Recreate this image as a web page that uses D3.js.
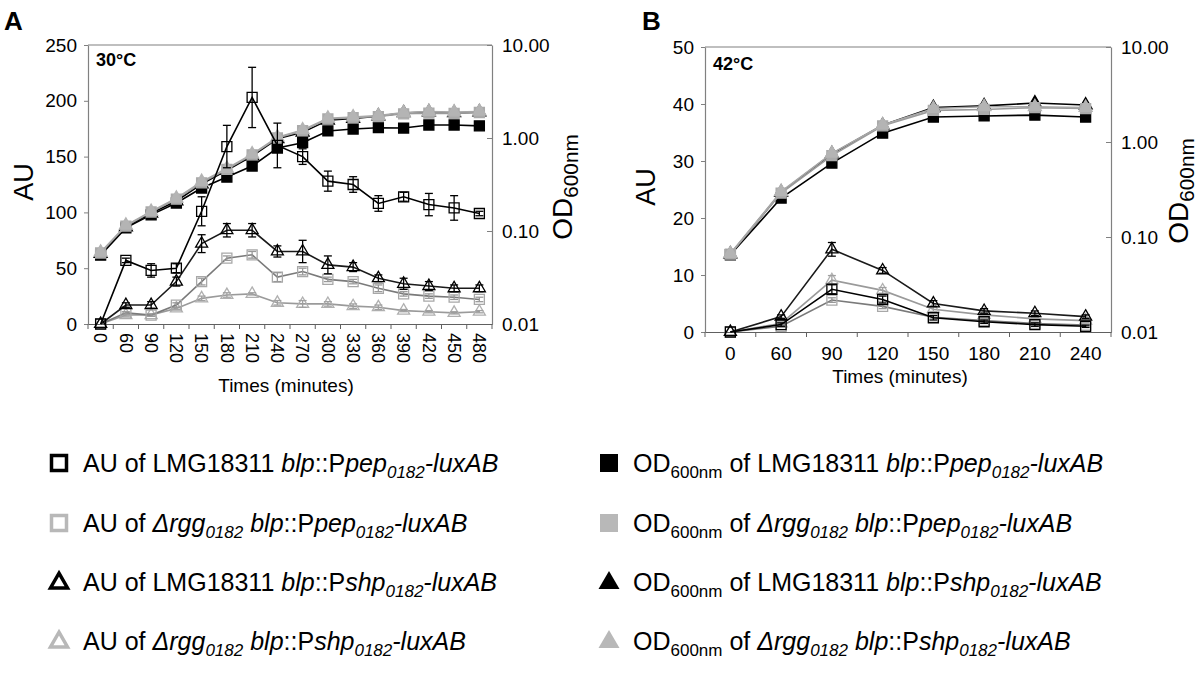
<!DOCTYPE html>
<html><head><meta charset="utf-8">
<script src="https://cdn.jsdelivr.net/npm/d3@7"></script>
<style>body{margin:0;background:#fff} svg{display:block} text{font-family:"Liberation Sans",Arial,sans-serif}</style>
</head><body><svg id="c" width="1200" height="685"></svg>
<script>
// ---------- data ----------
const timesA = [0,60,90,120,150,180,210,240,270,300,330,360,390,420,450,480];
const timesB = [0,60,90,120,150,180,210,240];
const yTicksA = [0,50,100,150,200,250];
const yTicksB = [0,10,20,30,40,50];
const odTicks = [0.01,0.1,1,10];

// Panel A (30°C) – AU
const auA_wtPep    = [0,57,48,50,101,159,203,160,150,128,125,108,114,107,104,99];
const auA_wtPepErr = [0,2,6,4,13,19,27,20,7,9,7,7,4,10,11,2];
const auA_rggPep    = [0,10,8,17,38,59,62,42,47,40,38,32,27,25,24,22];
const auA_rggPepErr = [0,1,1,2,3,2,3,4,3,2,2,3,2,2,2,2];
const auA_wtShp    = [0,17,17,38,72,84,84,65,65,53,51,41,36,34,32,32];
const auA_wtShpErr = [0,2,3,4,8,6,6,5,10,8,4,3,5,4,3,3];
const auA_rggShp    = [0,8,8,14,23,26,27,19,18,18,16,15,12,11,10,11];
const auA_rggShpErr = [0,1,1,1,2,2,1,2,3,2,2,2,1,1,1,1];
// Panel A – OD600nm
const odA_wtPep  = [0.055,0.108,0.149,0.20,0.29,0.38,0.50,0.78,0.89,1.19,1.25,1.29,1.28,1.38,1.38,1.35];
const odA_rggPep = [0.058,0.113,0.16,0.22,0.33,0.46,0.66,1.0,1.2,1.6,1.65,1.7,1.82,1.85,1.84,1.88];
const odA_wtShp  = [0.057,0.11,0.155,0.21,0.32,0.45,0.64,0.98,1.15,1.55,1.62,1.72,1.86,1.9,1.86,1.9];
const odA_rggShp = [0.059,0.115,0.162,0.225,0.34,0.47,0.67,1.02,1.22,1.63,1.68,1.74,1.88,1.92,1.9,1.93];

// Panel B (42°C) – AU
const auB_wtPep    = [0,1.3,7.5,5.7,2.5,1.8,1.3,1.0];
const auB_wtPepErr = [0,0.3,0.8,0.6,0.4,0.3,0.3,0.2];
const auB_rggPep    = [0,1.0,5.6,4.5,2.6,2.0,1.5,1.2];
const auB_rggPepErr = [0,0.2,0.4,0.4,0.3,0.3,0.2,0.2];
const auB_wtShp    = [0,2.7,14.5,10.8,5.0,3.7,3.3,2.7];
const auB_wtShpErr = [0,0.3,1.2,0.5,0.5,0.4,0.4,0.3];
const auB_rggShp    = [0,1.5,9.1,7.3,4.0,3.0,2.3,2.0];
const auB_rggShpErr = [0,0.2,0.8,0.5,0.4,0.3,0.3,0.3];
// Panel B – OD600nm
const odB_wtPep  = [0.065,0.257,0.60,1.24,1.83,1.88,1.92,1.83];
const odB_rggPep = [0.066,0.29,0.72,1.48,2.15,2.2,2.3,2.25];
const odB_wtShp  = [0.066,0.295,0.75,1.5,2.3,2.4,2.57,2.45];
const odB_rggShp = [0.067,0.30,0.76,1.51,2.25,2.35,2.35,2.3];

// ---------- drawing ----------
const svg = d3.select("#c");
const AX = "#808080";
const sq = (s)=>d3.symbol().type(d3.symbolSquare).size(s*s)();
const tri = (s)=>d3.symbol().type(d3.symbolTriangle).size(s*s*Math.sqrt(3)/4)();

function panel(cfg){
  const g = svg.append("g");
  const x = d3.scaleBand().domain(cfg.times).range([cfg.x0,cfg.x1]);
  const y = d3.scaleLinear().domain([0,cfg.yMax]).range([cfg.yb,cfg.yt]);
  const od = d3.scaleLog().domain([0.01,10]).range([cfg.yb,cfg.yt]);
  const cx = t => x(t)+x.bandwidth()/2;

  // frame
  g.append("line").attr("x1",cfg.x0).attr("x2",cfg.x1).attr("y1",cfg.yt).attr("y2",cfg.yt).attr("stroke",AX).attr("stroke-width",1.2);
  const la = g.append("g").attr("transform",`translate(${cfg.x0},0)`)
    .call(d3.axisLeft(y).tickValues(cfg.yTicks).tickSize(4).tickSizeOuter(0).tickPadding(7));
  const ra = g.append("g").attr("transform",`translate(${cfg.x1},0)`)
    .call(d3.axisRight(od).tickValues(odTicks).tickFormat(d3.format(".2f")).tickSize(-5).tickSizeOuter(0).tickPadding(10));
  [la,ra].forEach(a=>{a.select(".domain").attr("stroke",AX).attr("stroke-width",1.2);
    a.selectAll(".tick line").attr("stroke",AX);
    a.selectAll("text").attr("font-size",19).attr("fill","#000").attr("font-family","Liberation Sans, Arial, sans-serif");});
  const ba = g.append("g").attr("transform",`translate(0,${cfg.yb})`)
    .call(d3.axisBottom(x).tickSize(0).tickSizeOuter(0).tickPadding(cfg.rot?9:15));
  ba.select(".domain").attr("stroke","#606060").attr("stroke-width",1.2);
  ba.selectAll("text").attr("font-size",cfg.rot?18:19).attr("fill","#000").attr("font-family","Liberation Sans, Arial, sans-serif");
  if(cfg.rot){
    ba.selectAll(".tick text").attr("transform","rotate(90)").attr("x",9).attr("y",0).attr("dy","0.35em").attr("text-anchor","start");
  }
  d3.range(cfg.times.length+1).forEach(i=>{
    const xx = cfg.x0 + i*x.step();
    g.append("line").attr("x1",xx).attr("x2",xx).attr("y1",cfg.yb).attr("y2",cfg.yb+5).attr("stroke","#606060");
  });

  // series
  function series(vals, err, scale, s){
    const line = d3.line().x((d,i)=>cx(cfg.times[i])).y(d=>scale(d));
    g.append("path").attr("d",line(vals)).attr("fill","none").attr("stroke",s.line).attr("stroke-width",1.6);
    const pts = vals.map((v,i)=>({t:cfg.times[i],v,e:err?err[i]:0}));
    pts.forEach(p=>{
      g.append("path").attr("d",s.shape==="sq"?sq(s.size):tri(s.size))
        .attr("transform",`translate(${cx(p.t)},${scale(p.v)})`)
        .attr("fill",s.fill).attr("stroke",s.stroke).attr("stroke-width",s.sw||1.3);
      if(p.e>0){
        const X = cx(p.t), y1 = scale(p.v+p.e), y2 = scale(Math.max(p.v-p.e,0));
        g.append("line").attr("x1",X).attr("x2",X).attr("y1",y1).attr("y2",y2).attr("stroke",s.err).attr("stroke-width",1.3);
        [y1,y2].forEach(yy=>g.append("line").attr("x1",X-4).attr("x2",X+4).attr("y1",yy).attr("y2",yy).attr("stroke",s.err).attr("stroke-width",1.3));
      }
    });
  }
  const S = cfg.series;
  series(S.odWtPep,null,od,{line:"#000",shape:"sq",size:10,fill:"#000",stroke:"#000"});
  series(S.odWtShp,null,od,{line:"#000",shape:"tri",size:13,fill:"#000",stroke:"#000"});
  series(S.odRggPep,null,od,{line:"#9a9a9a",shape:"sq",size:10,fill:"#aaa",stroke:"#aaa"});
  series(S.odRggShp,null,od,{line:"#a8a8a8",shape:"tri",size:13,fill:"#b4b4b4",stroke:"#b4b4b4"});
  series(S.auRggShp,S.auRggShpErr,y,{line:"#9a9a9a",shape:"tri",size:12,fill:"none",stroke:"#b0b0b0",err:"#a0a0a0"});
  series(S.auRggPep,S.auRggPepErr,y,{line:"#7a7a7a",shape:"sq",size:10,fill:"none",stroke:"#a8a8a8",err:"#999"});
  series(S.auWtShp,S.auWtShpErr,y,{line:"#1a1a1a",shape:"tri",size:12,fill:"none",stroke:"#000",err:"#000"});
  series(S.auWtPep,S.auWtPepErr,y,{line:"#000",shape:"sq",size:10,fill:"none",stroke:"#000",err:"#000"});

  // labels
  svg.append("text").attr("x",cfg.letterX).attr("y",30).attr("font-size",26).attr("font-weight","bold").text(cfg.letter);
  svg.append("text").attr("x",cfg.x0+8).attr("y",cfg.tempY).attr("font-size",18).attr("font-weight","bold").text(cfg.temp);
  svg.append("text").attr("transform",`translate(${cfg.auX},${cfg.auY}) rotate(-90)`).attr("text-anchor","middle").attr("font-size",27).text("AU");
  const odl = svg.append("text").attr("transform",`translate(${cfg.odX},${cfg.odY}) rotate(-90)`).attr("text-anchor","middle").attr("font-size",cfg.odFs);
  odl.append("tspan").text("OD");
  odl.append("tspan").attr("font-size",cfg.odFs*0.74).attr("dy",cfg.odFs*0.2).text("600nm");
  svg.append("text").attr("x",cfg.titleX).attr("y",cfg.titleY).attr("text-anchor","middle").attr("font-size",19).text("Times (minutes)");
}

panel({times:timesA,x0:88,x1:492,yt:45,yb:324,yMax:250,yTicks:yTicksA,rot:true,
  letter:"A",letterX:4,temp:"30°C",tempY:66,auX:33,auY:182,odX:572,odY:187,odFs:28,titleX:286,titleY:392,
  series:{auWtPep:auA_wtPep,auWtPepErr:auA_wtPepErr,auRggPep:auA_rggPep,auRggPepErr:auA_rggPepErr,
    auWtShp:auA_wtShp,auWtShpErr:auA_wtShpErr,auRggShp:auA_rggShp,auRggShpErr:auA_rggShpErr,
    odWtPep:odA_wtPep,odRggPep:odA_rggPep,odWtShp:odA_wtShp,odRggShp:odA_rggShp}});
panel({times:timesB,x0:705,x1:1111,yt:47,yb:332,yMax:50,yTicks:yTicksB,rot:false,
  letter:"B",letterX:642,temp:"42°C",tempY:70,auX:655,auY:187,odX:1188,odY:191,odFs:28,titleX:900,titleY:383,
  series:{auWtPep:auB_wtPep,auWtPepErr:auB_wtPepErr,auRggPep:auB_rggPep,auRggPepErr:auB_rggPepErr,
    auWtShp:auB_wtShp,auWtShpErr:auB_wtShpErr,auRggShp:auB_rggShp,auRggShpErr:auB_rggShpErr,
    odWtPep:odB_wtPep,odRggPep:odB_rggPep,odWtShp:odB_wtShp,odRggShp:odB_rggShp}});

// ---------- legend ----------
const legendAU = [
  {m:"sq",fill:"none",stroke:"#000",seg:[["AU of LMG18311 "],["blp",1],["::P"],["pep",1],["0182",1,1],["-luxAB",1]]},
  {m:"sq",fill:"none",stroke:"#b8b8b8",seg:[["AU of "],["Δrgg",1],["0182",1,1],[" "],["blp",1],["::P"],["pep",1],["0182",1,1],["-luxAB",1]]},
  {m:"tri",fill:"none",stroke:"#000",seg:[["AU of LMG18311 "],["blp",1],["::P"],["shp",1],["0182",1,1],["-luxAB",1]]},
  {m:"tri",fill:"none",stroke:"#b8b8b8",seg:[["AU of "],["Δrgg",1],["0182",1,1],[" "],["blp",1],["::P"],["shp",1],["0182",1,1],["-luxAB",1]]}
];
const legendOD = [
  {m:"sq",fill:"#000",stroke:"#000",seg:[["OD"],["600nm",0,1],[" of LMG18311 "],["blp",1],["::P"],["pep",1],["0182",1,1],["-luxAB",1]]},
  {m:"sq",fill:"#b8b8b8",stroke:"#b8b8b8",seg:[["OD"],["600nm",0,1],[" of "],["Δrgg",1],["0182",1,1],[" "],["blp",1],["::P"],["pep",1],["0182",1,1],["-luxAB",1]]},
  {m:"tri",fill:"#000",stroke:"#000",seg:[["OD"],["600nm",0,1],[" of LMG18311 "],["blp",1],["::P"],["shp",1],["0182",1,1],["-luxAB",1]]},
  {m:"tri",fill:"#b8b8b8",stroke:"#b8b8b8",seg:[["OD"],["600nm",0,1],[" of "],["Δrgg",1],["0182",1,1],[" "],["blp",1],["::P"],["shp",1],["0182",1,1],["-luxAB",1]]}
];
const rowY = [463,523,582,641];
function legend(items, mx, tx, open){
  items.forEach((it,i)=>{
    const cy = rowY[i];
    const d = it.m==="sq" ? (open?sq(15):sq(18)) : (open?tri(17):tri(21));
    svg.append("path").attr("d",d).attr("transform",`translate(${mx},${cy+(it.m==="tri"?1:0)})`)
      .attr("fill",it.fill).attr("stroke",it.stroke).attr("stroke-width",open?3.5:0);
    const t = svg.append("text").attr("x",tx).attr("y",cy+9).attr("font-size",25);
    let sub=false;
    it.seg.forEach(s=>{
      const ts = t.append("tspan").text(s[0]);
      if(s[1]) ts.attr("font-style","italic");
      if(s[2] && !sub){ ts.attr("dy",6).attr("font-size",17); sub=true; }
      else if(s[2]) { ts.attr("font-size",17); }
      else if(sub){ ts.attr("dy",-6); sub=false; }
    });
  });
}
legend(legendAU,59,83,true);
legend(legendOD,609,633,false);
</script></body></html>
